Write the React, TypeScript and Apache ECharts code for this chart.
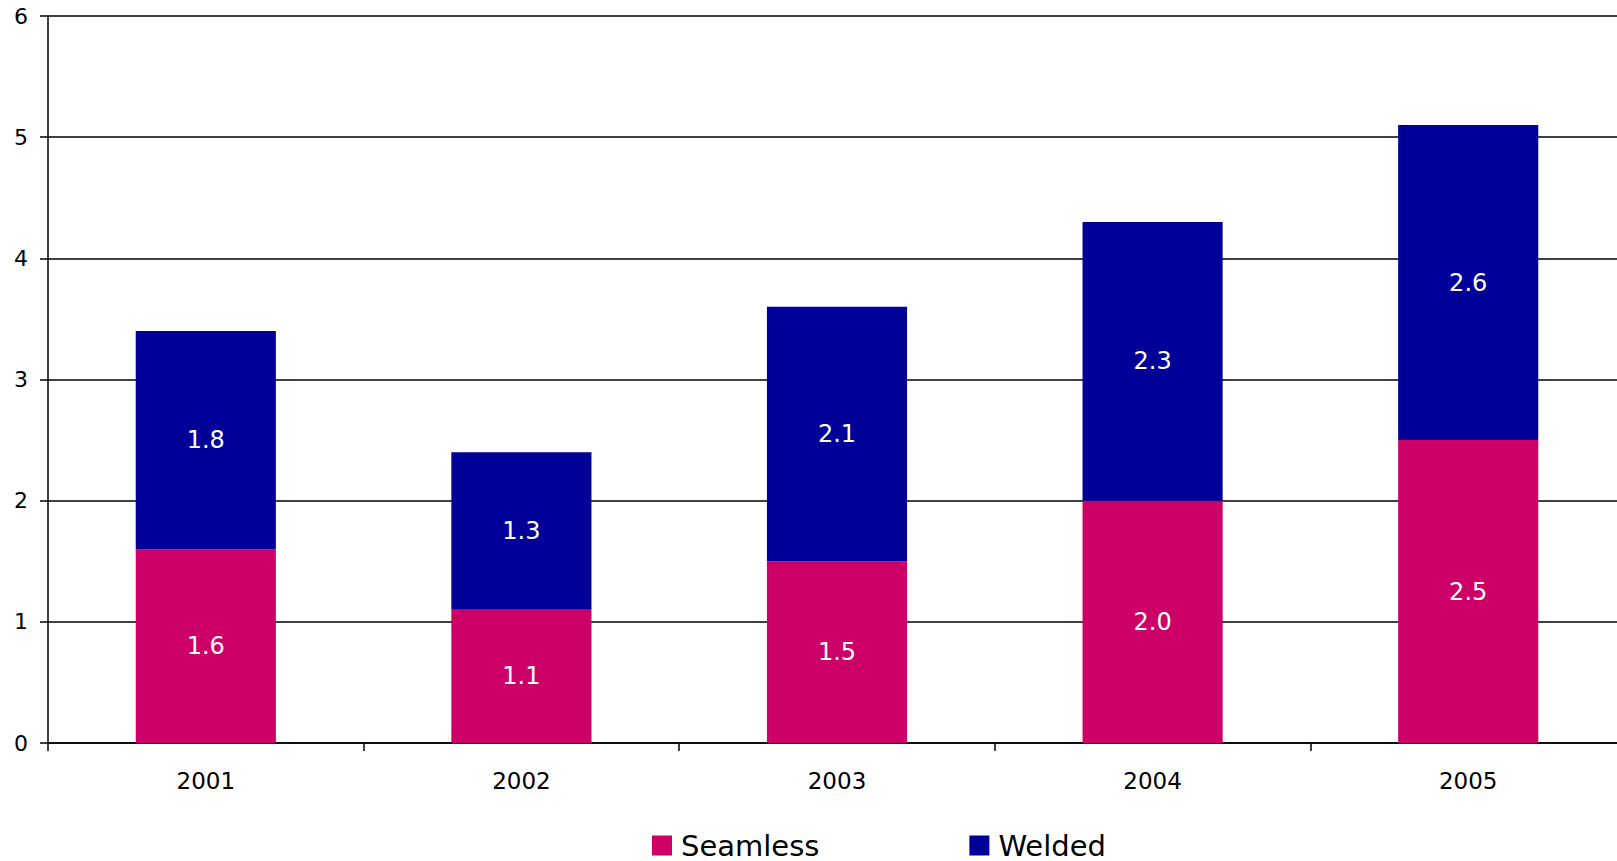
import React, { useEffect, useRef } from "react";
import * as echarts from "echarts";

const categories = ["2001", "2002", "2003", "2004", "2005"];
const seamless = [1.6, 1.1, 1.5, 2.0, 2.5];
const welded = [1.8, 1.3, 2.1, 2.3, 2.6];
const yTicks = { min: 0, max: 6, interval: 1 };

const FONT = "DejaVu Sans";

export default function App() {
  const ref = useRef<HTMLDivElement>(null);
  useEffect(() => {
    document.body.style.margin = "0";
    document.body.style.overflow = "hidden";
    document.documentElement.style.overflow = "hidden";
    const chart = echarts.init(ref.current!, null, { renderer: "svg" });
    const label = {
      show: true,
      position: "inside",
      color: "#ffffff",
      fontFamily: FONT,
      fontSize: 24,
      formatter: (p: any) => Number(p.value).toFixed(1),
    };
    chart.setOption({
      animation: false,
      backgroundColor: "#ffffff",
      grid: { left: 48, top: 16, bottom: 118, right: 0, containLabel: false },
      legend: {
        left: 652,
        top: 831,
        padding: 0,
        itemWidth: 20,
        itemHeight: 20,
        itemGap: 150,
        icon: "rect",
        textStyle: { fontFamily: FONT, fontSize: 29, color: "#000", lineHeight: 29, padding: [0, 0, 0, 4] },
        data: ["Seamless", "Welded"],
      },
      xAxis: {
        type: "category",
        data: categories,
        axisLine: { lineStyle: { color: "#000", width: 1.5 } },
        axisTick: { show: true, length: 8, lineStyle: { color: "#000", width: 1.5 } },
        axisLabel: { color: "#000", fontFamily: FONT, fontSize: 23, margin: 26 },
      },
      yAxis: {
        type: "value",
        min: yTicks.min,
        max: yTicks.max,
        interval: yTicks.interval,
        axisLine: { show: true, lineStyle: { color: "#000", width: 1.5 } },
        axisTick: { show: true, length: 8, lineStyle: { color: "#000", width: 1.5 } },
        axisLabel: { color: "#000", fontFamily: FONT, fontSize: 22, margin: 20 },
        splitLine: { show: true, lineStyle: { color: "#000", width: 1.5 } },
      },
      series: [
        {
          name: "Seamless",
          type: "bar",
          stack: "total",
          data: seamless,
          barWidth: "44.4%",
          itemStyle: { color: "#CC0066" },
          label,
        },
        {
          name: "Welded",
          type: "bar",
          stack: "total",
          data: welded,
          barWidth: "44.4%",
          itemStyle: { color: "#000099" },
          label,
        },
      ],
    });
    return () => chart.dispose();
  }, []);
  return <div ref={ref} style={{ width: 1626, height: 861 }} />;
}
